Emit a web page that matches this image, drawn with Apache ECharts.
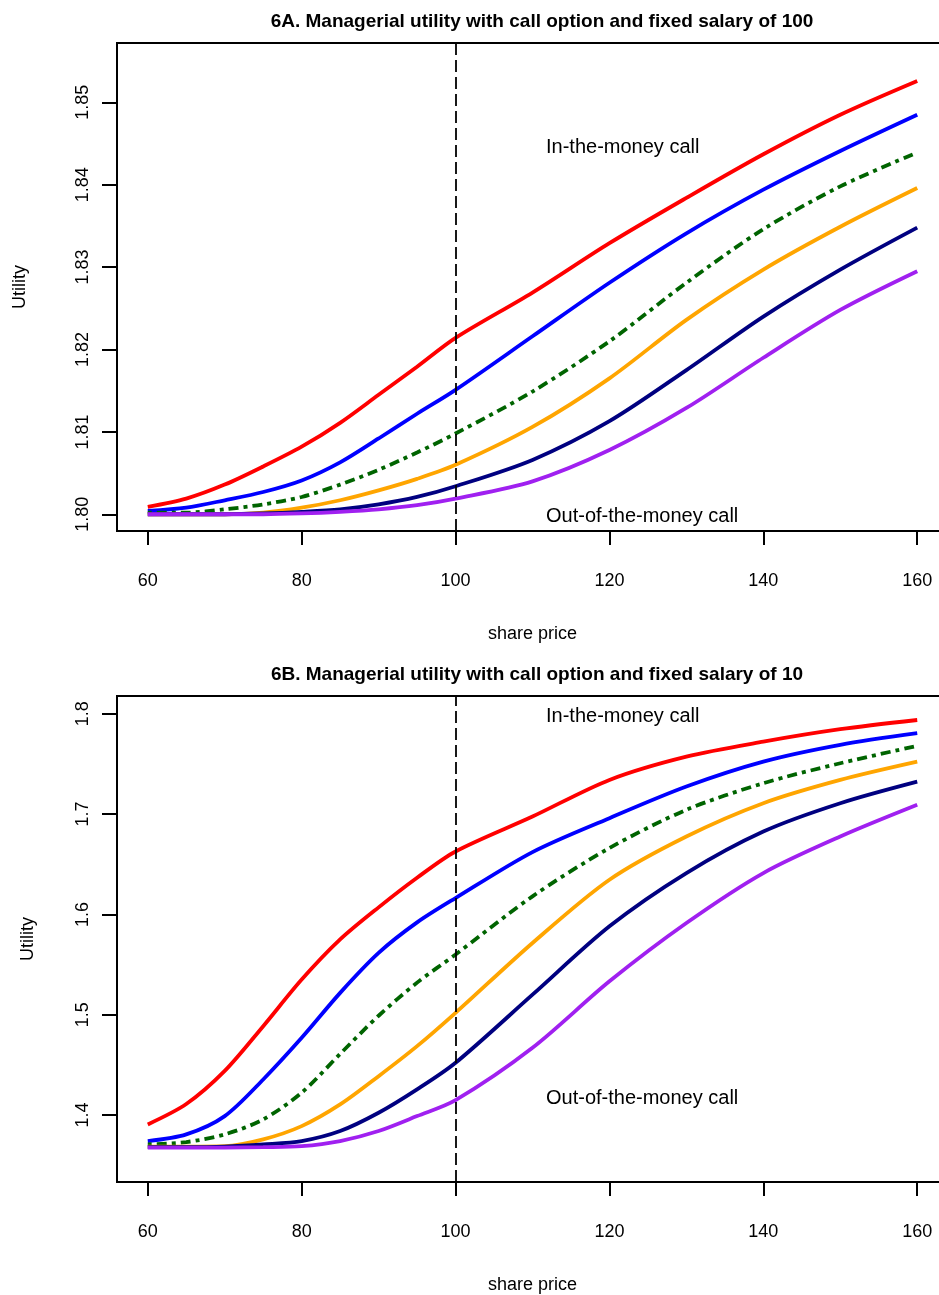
<!DOCTYPE html>
<html>
<head>
<meta charset="utf-8">
<title>Managerial utility with call option</title>
<script src="https://cdn.jsdelivr.net/npm/echarts@6/dist/echarts.min.js"></script>
<style>
  html, body { margin: 0; padding: 0; background: #fff; overflow: hidden; }
  /* the plot box runs a little past the right edge of the picture, as in the original */
  #chart { width: 950px; height: 1295px; }
</style>
</head>
<body>
<div id="chart"></div>
<script>
// share price grid (both panels)
const price = [60, 65, 70, 75, 80, 85, 90, 95, 100, 110, 120, 130, 140, 150, 160]
const xTicks = [60, 80, 100, 120, 140, 160]

// 6A: fixed salary of 100
const yTicksA = [1.80, 1.81, 1.82, 1.83, 1.84, 1.85]
const redA = [1.8009, 1.8019, 1.8036, 1.8058, 1.8082, 1.8111, 1.8145, 1.8179, 1.8214, 1.8269, 1.8329, 1.8384, 1.8437, 1.8485, 1.8526]
const blueA = [1.8004, 1.8008, 1.8017, 1.8027, 1.8041, 1.8063, 1.8092, 1.8122, 1.8151, 1.8216, 1.8281, 1.8341, 1.8394, 1.8441, 1.8485]
const greenA = [1.8002, 1.8002, 1.8006, 1.8012, 1.8021, 1.8036, 1.8054, 1.8075, 1.8098, 1.8149, 1.8210, 1.8281, 1.8346, 1.8398, 1.8439]
const orangeA = [1.8000, 1.8000, 1.8000, 1.8002, 1.8008, 1.8017, 1.8029, 1.8043, 1.8060, 1.8106, 1.8165, 1.8236, 1.8297, 1.8349, 1.8396]
const navyA = [1.8000, 1.8000, 1.8000, 1.8001, 1.8003, 1.8006, 1.8012, 1.8021, 1.8034, 1.8066, 1.8113, 1.8175, 1.8240, 1.8297, 1.8348]
const purpleA = [1.8000, 1.8000, 1.8000, 1.8000, 1.8001, 1.8003, 1.8006, 1.8011, 1.8019, 1.8040, 1.8078, 1.8129, 1.8190, 1.8248, 1.8295]

// 6B: fixed salary of 10
const yTicksB = [1.4, 1.5, 1.6, 1.7, 1.8]
const redB = [1.3907, 1.4110, 1.4440, 1.4886, 1.5350, 1.5750, 1.6070, 1.6365, 1.6627, 1.6975, 1.7340, 1.7572, 1.7721, 1.7845, 1.7937]
const blueB = [1.3741, 1.3808, 1.3990, 1.4355, 1.4770, 1.5218, 1.5616, 1.5920, 1.6163, 1.6621, 1.6959, 1.7274, 1.7522, 1.7689, 1.7805]
const greenB = [1.3708, 1.3731, 1.3808, 1.3957, 1.4223, 1.4610, 1.4990, 1.5320, 1.5600, 1.6180, 1.6661, 1.7042, 1.7307, 1.7506, 1.7679]
const orangeB = [1.3686, 1.3686, 1.3690, 1.3758, 1.3890, 1.4106, 1.4388, 1.4687, 1.5019, 1.5715, 1.6345, 1.6776, 1.7108, 1.7340, 1.7522]
const navyB = [1.3680, 1.3680, 1.3686, 1.3708, 1.3741, 1.3841, 1.4023, 1.4256, 1.4521, 1.5200, 1.5881, 1.6412, 1.6826, 1.7108, 1.7323]
const purpleB = [1.3675, 1.3675, 1.3676, 1.3680, 1.3690, 1.3741, 1.3841, 1.3990, 1.4149, 1.4671, 1.5333, 1.5914, 1.6412, 1.6776, 1.7092]

const colors = ['#FF0000', '#0000FF', '#006400', '#FFA500', '#000080', '#A020F0']
const FONT = "'Liberation Sans', Arial, Helvetica, sans-serif"

const chart = echarts.init(document.getElementById('chart'))

// one line series
const makeLine = (values, i, gridIdx) => ({
  type: 'line',
  xAxisIndex: gridIdx,
  yAxisIndex: gridIdx,
  data: price.map((p, k) => [p, values[k]]),
  showSymbol: false,
  smooth: 0.3,
  silent: true,
  lineStyle: {
    color: colors[i],
    width: 3.8,
    type: i === 2 ? [4, 5, 10, 5] : 'solid'
  }
})

// dashed vertical line at the strike price
const strikeLine = {
  silent: true,
  symbol: 'none',
  label: { show: false },
  lineStyle: { color: '#000', width: 1.8, type: [12, 5] },
  data: [{ xAxis: 100 }]
}

const makeX = (gridIdx) => ({
  type: 'value',
  gridIndex: gridIdx,
  min: 56,
  max: 164,
  name: 'share price',
  nameLocation: 'middle',
  nameGap: 94,
  nameTextStyle: { fontFamily: FONT, fontSize: 18, color: '#000' },
  axisLine: { show: true, onZero: false, lineStyle: { color: '#000', width: 2 } },
  axisTick: { show: true, length: 14, customValues: xTicks, lineStyle: { color: '#000', width: 2 } },
  axisLabel: { customValues: xTicks, margin: 41, fontFamily: FONT, fontSize: 18, color: '#000' },
  splitLine: { show: false }
})

const makeY = (gridIdx, min, max, ticks, gap, fmt) => ({
  type: 'value',
  gridIndex: gridIdx,
  min: min,
  max: max,
  name: 'Utility',
  nameLocation: 'middle',
  nameRotate: 90,
  nameGap: gap,
  nameTextStyle: { fontFamily: FONT, fontSize: 18, color: '#000' },
  axisLine: { show: true, lineStyle: { color: '#000', width: 2 } },
  axisTick: { show: true, length: 15, customValues: ticks, lineStyle: { color: '#000', width: 2 } },
  axisLabel: {
    customValues: ticks,
    rotate: 90,
    margin: 25,
    fontFamily: FONT,
    fontSize: 18,
    color: '#000',
    formatter: fmt
  },
  splitLine: { show: false }
})

const note = (text, x, y) => ({
  type: 'text',
  x: x,
  y: y,
  silent: true,
  style: { text: text, font: '20px ' + FONT, fill: '#000', align: 'left', verticalAlign: 'middle' }
})

const seriesA = [redA, blueA, greenA, orangeA, navyA, purpleA].map((v, i) => makeLine(v, i, 0))
const seriesB = [redB, blueB, greenB, orangeB, navyB, purpleB].map((v, i) => makeLine(v, i, 1))
seriesA[5].markLine = strikeLine
seriesB[5].markLine = strikeLine

const option = {
  animation: false,
  backgroundColor: '#fff',
  title: [
    {
      text: '6A. Managerial utility with call option and fixed salary of 100',
      left: 537, top: 7, textAlign: 'center',
      textStyle: { fontFamily: FONT, fontSize: 19, fontWeight: 'bold', color: '#000' }
    },
    {
      text: '6B. Managerial utility with call option and fixed salary of 10',
      left: 532, top: 660, textAlign: 'center',
      textStyle: { fontFamily: FONT, fontSize: 19, fontWeight: 'bold', color: '#000' }
    }
  ],
  grid: [
    { left: 117, top: 43, width: 831, height: 488, show: true, borderColor: '#000', borderWidth: 2, backgroundColor: 'transparent' },
    { left: 117, top: 696, width: 831, height: 487, show: true, borderColor: '#000', borderWidth: 2, backgroundColor: 'transparent' }
  ],
  xAxis: [makeX(0), makeX(1)],
  yAxis: [
    makeY(0, 1.79797, 1.8572, yTicksA, 88, (v) => v.toFixed(2)),
    makeY(1, 1.33333, 1.81761, yTicksB, 80, (v) => v.toFixed(1))
  ],
  series: seriesA.concat(seriesB),
  graphic: [
    note('In-the-money call', 546, 147),
    note('Out-of-the-money call', 546, 516),
    note('In-the-money call', 546, 716),
    note('Out-of-the-money call', 546, 1098)
  ]
}

chart.setOption(option)
</script>
</body>
</html>
